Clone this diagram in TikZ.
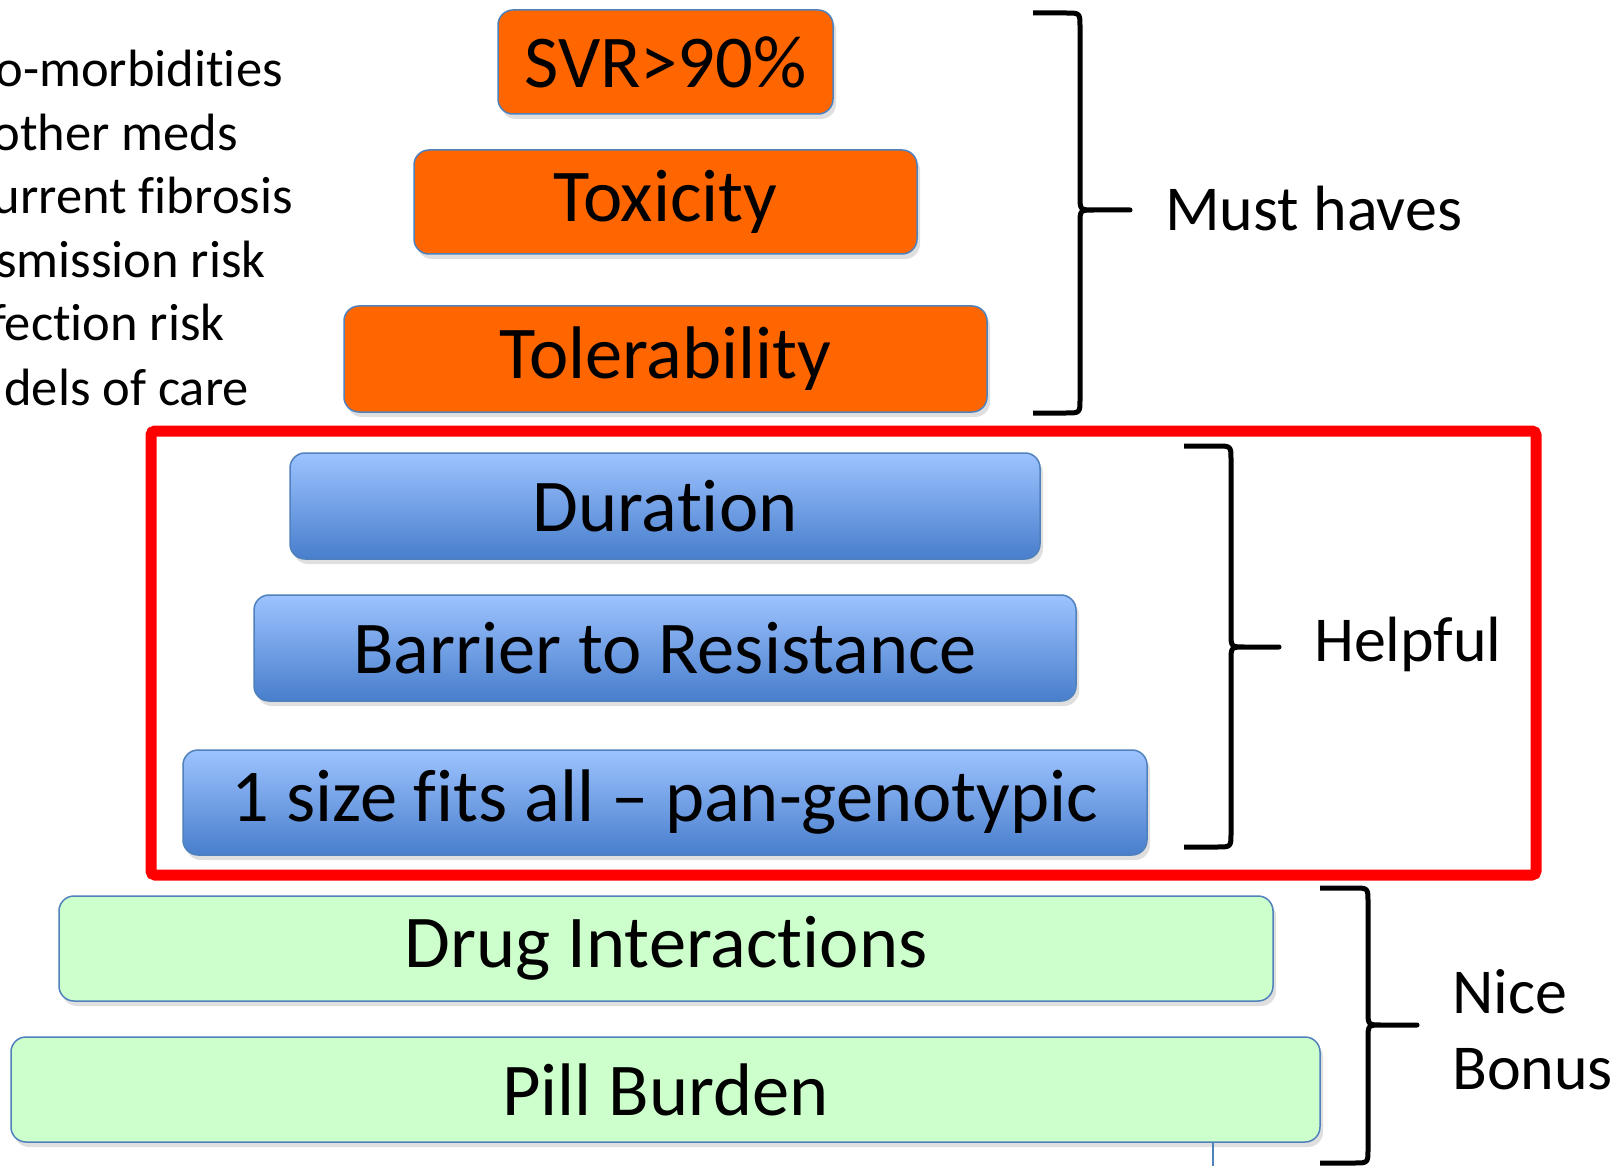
\documentclass[tikz,border=0pt]{standalone}
\usepackage{fontspec}
\setmainfont{Carlito}[Ligatures=NoCommon]
\usetikzlibrary{shadows}
\definecolor{orangebox}{RGB}{255,102,0}
\definecolor{boxline}{RGB}{79,129,189}
\definecolor{bluetop}{RGB}{157,195,255}
\definecolor{bluebot}{RGB}{72,126,204}
\definecolor{greenbox}{RGB}{204,255,204}
\tikzset{
  tier/.style={draw=boxline,line width=1.5pt,rounded corners=15pt,
    inner sep=0pt,font=\fontsize{74.5}{80}\selectfont,
    drop shadow={shadow xshift=3pt,shadow yshift=-5pt,opacity=.25}},
  musthave/.style={tier,fill=orangebox},
  helpful/.style={tier,top color=bluetop,bottom color=bluebot},
  bonus/.style={tier,fill=greenbox},
  curly/.style={line width=5pt,line join=round},
  sidetext/.style={font=\fontsize{52.5}{52}\selectfont,anchor=base east,inner sep=0pt},
  grouplabel/.style={font=\fontsize{64}{76}\selectfont,anchor=west,inner sep=0pt,align=left}
}
\begin{document}
\begin{tikzpicture}[x=1pt,y=-1pt]
	\useasboundingbox[fill=white] (0,0) rectangle (1612,1166);
	% factors on the left, cut by the page edge
	\node[sidetext] (f1) at (283,87) {o-morbidities};
	\node[sidetext] (f2) at (238,151) {other meds};
	\node[sidetext] (f3) at (293,214) {urrent fibrosis};
	\node[sidetext] (f4) at (266,278) {smission risk};
	\node[sidetext] (f5) at (225,341) {fection risk};
	\node[sidetext] (f6) at (249,405) {dels of care};
	% red frame
	\draw[red,line width=11pt,rounded corners=4pt] (151,431) rectangle (1536,875);
	% pyramid of tiers
	\node[musthave,minimum width=335pt,minimum height=104pt] (svr) at (665.5,62) {SVR>90\%};
	\node[musthave,minimum width=503pt,minimum height=104pt] (tox) at (665.5,202) {Toxicity};
	\node[musthave,minimum width=643pt,minimum height=106pt] (tol) at (665.5,359) {Tolerability};
	\node[helpful,minimum width=750pt,minimum height=106pt] (dur) at (665,506) {Duration};
	\node[helpful,minimum width=822pt,minimum height=106pt] (bar) at (665,648) {Barrier to Resistance};
	\node[helpful,minimum width=964pt,minimum height=105pt] (pan) at (665,802.5) {1 size fits all -- pan-genotypic};
	\node[bonus,minimum width=1214pt,minimum height=105pt] (ddi) at (666,948.5) {Drug Interactions};
	\node[bonus,minimum width=1309pt,minimum height=105pt] (pill) at (665.5,1089.5) {Pill Burden};
	\draw[boxline,line width=1.5pt] (1213,1143) -- (1213,1166);
	% braces
	\draw[curly] (1033,13) -- (1066,13) .. controls (1080,13) .. (1080,27) -- (1080,196)
		.. controls (1080,210) .. (1094,210) -- (1130,210) -- (1094,210)
		.. controls (1080,210) .. (1080,224) -- (1080,399) .. controls (1080,413) .. (1066,413) -- (1033,413);
	\draw[curly] (1184,446) -- (1217,446) .. controls (1231,446) .. (1231,460) -- (1231,633)
		.. controls (1231,647) .. (1245,647) -- (1279,647) -- (1245,647)
		.. controls (1231,647) .. (1231,661) -- (1231,833) .. controls (1231,847) .. (1217,847) -- (1184,847);
	\draw[curly] (1320,888) -- (1354,888) .. controls (1368,888) .. (1368,902) -- (1368,1011)
		.. controls (1368,1025) .. (1382,1025) -- (1417,1025) -- (1382,1025)
		.. controls (1368,1025) .. (1368,1039) -- (1368,1149) .. controls (1368,1163) .. (1354,1163) -- (1320,1163);
	\node[grouplabel] (must) at (1165,209) {Must haves};
	\node[grouplabel] (help) at (1314,644) {Helpful};
	\node[grouplabel] (nice) at (1452,1030) {Nice\\Bonus};
\end{tikzpicture}
\end{document}
